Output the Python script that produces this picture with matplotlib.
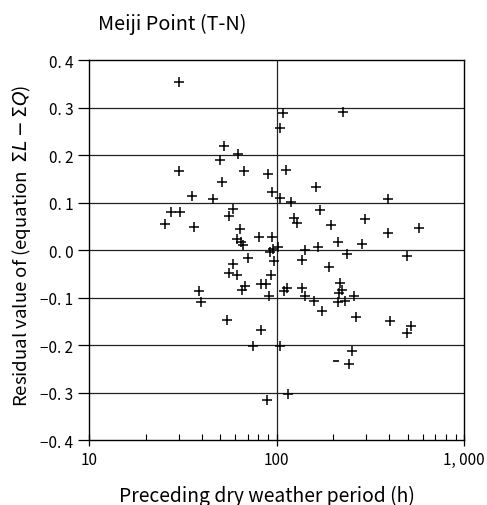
import numpy as np
import matplotlib
matplotlib.use("Agg")
import matplotlib.pyplot as plt

plt.rcParams['font.family'] = ['Noto Sans CJK JP', 'DejaVu Sans']

# preceding dry weather period (h) and residual value
dry_h = [30.1, 108, 104, 52.6, 62.2, 49.7, 30.2, 67, 89.7, 112,
         51.1, 35.2, 45.7, 94.3, 104.4, 58.5, 55.7, 27.3, 30.4, 25.4,
         36.2, 64, 80.9, 94.6, 61.3, 64.3, 66.5, 92.6, 95.4, 101.9,
         70.2, 97.3, 58.8, 55.7, 61.7, 93.8, 68.1, 65.6, 82.3, 87.5,
         91.5, 109.7, 113.4, 38.7, 39.5, 54.6, 82.6, 74.6, 104.8, 114.8,
         88.6, 225, 162, 119, 391, 170, 124, 128.7, 195, 297,
         391, 578, 213, 284, 167, 142, 137, 237, 494, 191,
         217, 214, 223, 135.8, 141, 158.7, 212, 230.6, 259.6, 175,
         263.8, 403, 493, 518, 252, 244]
resid = [0.355, 0.288, 0.257, 0.219, 0.203, 0.190, 0.166, 0.166, 0.161, 0.169,
         0.144, 0.115, 0.108, 0.122, 0.109, 0.086, 0.072, 0.081, 0.080, 0.056,
         0.048, 0.044, 0.028, 0.028, 0.023, 0.018, 0.011, -0.004, 0.002, 0.006,
         -0.016, -0.023, -0.029, -0.048, -0.053, -0.053, -0.075, -0.084, -0.071, -0.071,
         -0.097, -0.086, -0.079, -0.086, -0.110, -0.147, -0.167, -0.201, -0.201, -0.302,
         -0.315, 0.291, 0.133, 0.102, 0.107, 0.084, 0.068, 0.057, 0.053, 0.066,
         0.036, 0.047, 0.018, 0.014, 0.007, 0.001, -0.021, -0.007, -0.012, -0.036,
         -0.069, -0.089, -0.084, -0.080, -0.097, -0.106, -0.110, -0.107, -0.096, -0.127,
         -0.140, -0.148, -0.174, -0.160, -0.213, -0.239]
# broken mark drawn as a dash
dash_h = [207]
dash_r = [-0.234]

yticks = [-0.4, -0.3, -0.2, -0.1, 0.0, 0.1, 0.2, 0.3, 0.4]
ylabels = ["\u22120. 4", "\u22120. 3", "\u22120. 2", "\u22120. 1", "0. 0",
           "0. 1", "0. 2", "0. 3", "0. 4"]
xticks = [10, 100, 1000]
xlabels = ["10", "100", "1, 000"]

fig = plt.figure(figsize=(4.87, 5.06), dpi=100)
ax = fig.add_axes([0.183, 0.128, 0.770, 0.751])

for y in yticks[1:-1]:
    ax.axhline(y, color="#222222", lw=0.9, zorder=1)
ax.axvline(100, color="#222222", lw=0.9, zorder=1)

ax.plot(dry_h, resid, linestyle="none", marker="+", ms=7, mew=1.1, color="black", zorder=3)
ax.plot(dash_h, dash_r, linestyle="none", marker="_", ms=5, mew=1.2, color="black", zorder=3)

ax.set_xscale("log")
ax.set_xlim(10, 1000)
ax.set_ylim(-0.4, 0.4)
ax.set_xticks(xticks)
ax.set_xticklabels(xlabels)
ax.set_yticks(yticks)
ax.set_yticklabels(ylabels)
ax.tick_params(axis="y", direction="out", length=8, width=0.9, labelsize=11)
ax.tick_params(axis="x", which="major", direction="inout", length=8, width=0.9, labelsize=11)
ax.tick_params(axis="x", which="minor", direction="in", length=4, width=0.8)
for s in ax.spines.values():
    s.set_linewidth(1.0)

ax.set_xlabel("Preceding dry weather period (h)", fontsize=13.9)
ax.xaxis.set_label_coords(0.473, -0.118)
ax.set_ylabel("Residual value of (equation  $\\Sigma L-\\Sigma Q$)", fontsize=13.4)
ax.yaxis.set_label_coords(-0.149, 0.515)
fig.text(0.201, 0.951, "Meiji Point (T-N)", fontsize=14.3, ha="left", va="center")

fig.savefig("out.png", dpi=100)
